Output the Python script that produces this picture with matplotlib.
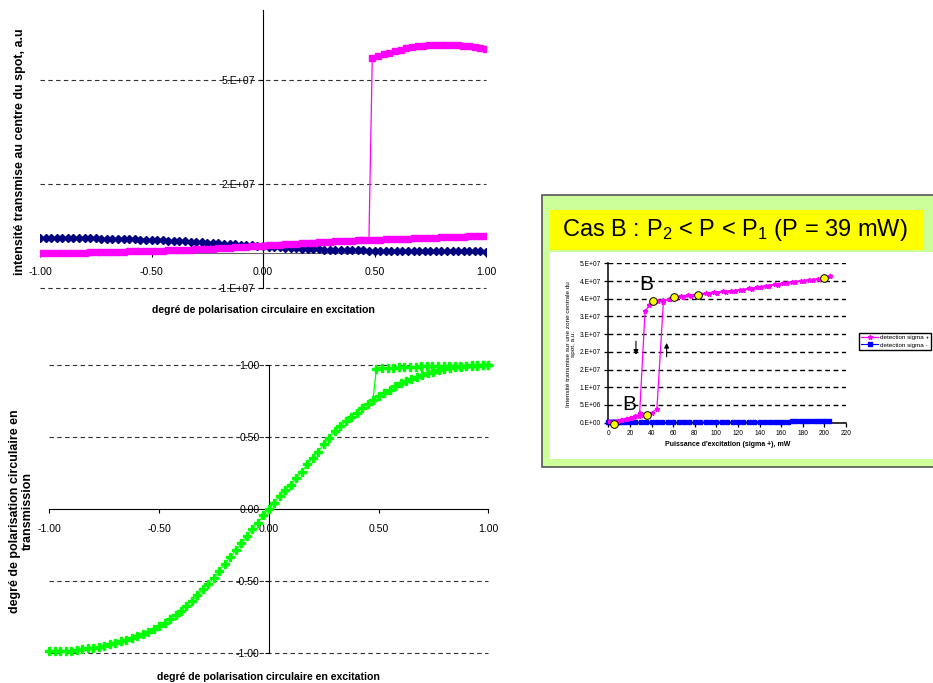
import numpy as np
import matplotlib
matplotlib.use("Agg")
import matplotlib.pyplot as plt
from matplotlib import font_manager
from matplotlib.patches import Rectangle

# ---------------- data ----------------
# polarisation sweep (degree of circular polarisation in excitation)
pol_x = np.linspace(-1.0, 1.0, 81)
pol_x_hi = np.linspace(0.49, 1.0, 21)
jump_idx = 59  # last point of the low branch before the switch (x = 0.475)

# top chart, transmitted intensity, units of 1e6 a.u.
navy_int = [4.50, 4.49, 4.47, 4.46, 4.44, 4.42, 4.40, 4.37, 4.34, 4.31,
            4.27, 4.23, 4.19, 4.15, 4.11, 4.06, 4.02, 3.97, 3.92, 3.87,
            3.82, 3.76, 3.70, 3.63, 3.57, 3.50, 3.42, 3.34, 3.26, 3.17,
            3.08, 2.99, 2.89, 2.79, 2.69, 2.58, 2.47, 2.36, 2.25, 2.13,
            2.02, 1.91, 1.80, 1.70, 1.60, 1.50, 1.41, 1.33, 1.25, 1.18,
            1.12, 1.06, 1.01, 0.97, 0.93, 0.89, 0.86, 0.83, 0.80, 0.78,
            0.76, 0.74, 0.72, 0.70, 0.68, 0.67, 0.65, 0.64, 0.62, 0.61,
            0.60, 0.59, 0.58, 0.57, 0.56, 0.55, 0.54, 0.53, 0.52, 0.51,
            0.50]
pink_int_low = [0.00, 0.02, 0.04, 0.07, 0.09, 0.12, 0.15, 0.18, 0.21, 0.25,
                0.29, 0.33, 0.37, 0.41, 0.45, 0.50, 0.54, 0.58, 0.62, 0.65,
                0.68, 0.72, 0.76, 0.81, 0.86, 0.92, 0.98, 1.04, 1.11, 1.18,
                1.26, 1.34, 1.43, 1.52, 1.61, 1.71, 1.81, 1.91, 2.01, 2.11,
                2.21, 2.31, 2.41, 2.51, 2.61, 2.71, 2.80, 2.89, 2.98, 3.07,
                3.15, 3.23, 3.31, 3.39, 3.46, 3.53, 3.60, 3.67, 3.74, 3.80,
                3.86, 3.92, 3.98, 4.04, 4.10, 4.16, 4.22, 4.28, 4.34, 4.40,
                4.46, 4.52, 4.57, 4.63, 4.68, 4.73, 4.78, 4.83, 4.88, 4.93,
                4.98]
pink_int_high = [56.2, 56.8, 57.3, 57.7, 58.2, 58.6, 59.0, 59.3, 59.5, 59.7,
                 59.8, 59.9, 60.0, 60.0, 59.9, 59.8, 59.6, 59.5, 59.4, 59.2,
                 58.9]
top_yticks = [-1e7, 2e7, 5e7]
top_ylabels = ["-1.E+07", "2.E+07", "5.E+07"]
pol_ticks = [-1.0, -0.5, 0.0, 0.5, 1.0]
pol_labels = ["-1.00", "-0.50", "0.00", "0.50", "1.00"]

# bottom chart, degree of circular polarisation in transmission
green_pol = [-0.99, -0.99, -0.99, -0.99, -0.985, -0.98, -0.975, -0.97, -0.965, -0.96,
             -0.95, -0.94, -0.93, -0.92, -0.91, -0.90, -0.885, -0.87, -0.855, -0.835,
             -0.815, -0.79, -0.765, -0.74, -0.71, -0.675, -0.64, -0.60, -0.56, -0.52,
             -0.48, -0.43, -0.38, -0.335, -0.285, -0.24, -0.19, -0.14, -0.095, -0.045,
             0.00, 0.045, 0.09, 0.13, 0.17, 0.215, 0.26, 0.31, 0.355, 0.40,
             0.45, 0.495, 0.54, 0.575, 0.61, 0.64, 0.67, 0.70, 0.73, 0.76,
             0.785, 0.81, 0.83, 0.855, 0.875, 0.89, 0.905, 0.92, 0.935, 0.945,
             0.955, 0.965, 0.972, 0.98, 0.985, 0.99, 0.995, 0.997, 0.998, 1.00,
             1.00]
green_pol_high = [0.975, 0.978, 0.98, 0.983, 0.985, 0.987, 0.989, 0.99, 0.992, 0.993,
                  0.994, 0.995, 0.996, 0.997, 0.997, 0.998, 0.998, 0.999, 0.999, 1.0,
                  1.0]
bot_yticks = [-1.0, -0.5, 0.0, 0.5, 1.0]
bot_ylabels = ["-1.00", "-0.50", "0.00", "0.50", "1.00"]
bot_grid = [-1.0, -0.5, 0.5, 1.0]

# inset (cas B): power sweep, mW -> intensity in 1e6 a.u.
sweep_up_mw = [0, 4, 8, 12, 16, 20, 24, 28, 32, 36, 40, 45, 51, 56, 61, 67, 74, 82,
               90, 98, 106, 114, 122, 130, 138, 146, 154, 162, 170, 178, 186, 194,
               200, 205]
sweep_up_int = [0.1, 0.25, 0.5, 0.8, 1.1, 1.35, 1.65, 1.95, 2.15, 2.35, 2.7, 4.0,
                34.2, 34.8, 35.5, 35.8, 36.0, 36.3, 36.6, 36.9, 37.1, 37.3, 37.6,
                37.9, 38.3, 38.7, 39.1, 39.5, 39.8, 40.1, 40.4, 40.7, 41.0, 41.4]
sweep_down_mw = [205, 197, 189, 181, 173, 165, 157, 149, 141, 133, 125, 117, 109,
                 101, 93, 85, 77, 69, 63, 57, 51, 46, 42, 38, 34, 29, 25, 21, 17,
                 13, 9, 5, 1]
sweep_down_int = [41.4, 40.7, 40.3, 40.0, 39.7, 39.4, 39.0, 38.6, 38.2, 37.8, 37.5,
                  37.2, 37.0, 36.7, 36.4, 36.1, 35.8, 35.5, 35.2, 34.8, 34.5, 34.3,
                  34.0, 33.2, 31.4, 2.6, 1.8, 1.45, 1.1, 0.8, 0.5, 0.3, 0.1]
sigma_minus_mw = [0, 1, 2, 3, 4, 5, 6, 8, 10, 12, 15, 20, 25, 30, 35, 40, 45, 50,
                  55, 60, 65, 70, 75, 80, 85, 90, 95, 100, 105, 110, 115, 120, 125,
                  130, 135, 140, 145, 150, 154, 158, 162, 166, 170, 174, 178, 182,
                  186, 190, 194, 198, 201, 204]
sigma_minus_int = [0.1, 0.1, 0.1, 0.15, 0.15, 0.15, 0.15, 0.2, 0.2, 0.2, 0.2, 0.2,
                   0.2, 0.2, 0.2, 0.2, 0.2, 0.2, 0.2, 0.2, 0.2, 0.2, 0.2, 0.2, 0.2,
                   0.2, 0.2, 0.25, 0.25, 0.25, 0.25, 0.25, 0.25, 0.25, 0.25, 0.3,
                   0.3, 0.3, 0.3, 0.3, 0.3, 0.3, 0.35, 0.35, 0.35, 0.35, 0.35, 0.35,
                   0.4, 0.4, 0.4, 0.4]
marked_mw = [5.3, 35.5, 41.7, 60.8, 82.7, 199.7]
marked_int = [-0.3, 2.2, 34.4, 35.6, 36.1, 40.9]
inset_yticks = [0, 5e6, 1e7, 1.5e7, 2e7, 2.5e7, 3e7, 3.5e7, 4e7, 4.5e7]
inset_ylabels = ["0.E+00", "5.E+06", "1.E+07", "2.E+07", "2.E+07", "3.E+07",
                 "3.E+07", "4.E+07", "4.E+07", "5.E+07"]
inset_xticks = [0, 20, 40, 60, 80, 100, 120, 140, 160, 180, 200, 220]

# ---------------- style ----------------
plt.rcParams['font.family'] = ['Liberation Sans', 'DejaVu Sans']
plt.rcParams['mathtext.fontset'] = 'custom'
plt.rcParams['mathtext.rm'] = 'Liberation Sans'
plt.rcParams['mathtext.it'] = 'Liberation Sans'
plt.rcParams['mathtext.default'] = 'regular'

try:
    font_manager.findfont('Liberation Sans Narrow', fallback_to_default=False)
    NARROW, FS = 'Liberation Sans Narrow', 9
except ValueError:
    NARROW, FS = 'Liberation Sans', 7.6

W, H = 933, 683
fig = plt.figure(figsize=(W / 100, H / 100), dpi=100)


def box(x0, y0, x1, y1):
    return [x0 / W, 1 - y1 / H, (x1 - x0) / W, (y1 - y0) / H]


def ptext(x, y, s, **kw):
    return fig.text(x / W, 1 - y / H, s, **kw)


# background panel for the inset picture
axp = fig.add_axes([0, 0, 1, 1], zorder=0)
axp.set_xlim(0, W)
axp.set_ylim(H, 0)
axp.axis('off')
axp.patch.set_visible(False)
axp.add_patch(Rectangle((541.5, 195), 420, 272, fc='#CCFF99', ec='#555555', lw=1.2))
axp.add_patch(Rectangle((550, 209.5), 373.5, 40, fc='#FFFF00', ec='none'))
axp.add_patch(Rectangle((550, 252), 400, 206.5, fc='white', ec='none'))
axp.text(561.5, 230, 'Cas B : P$_2$ < P < P$_1$ (P = 39 mW)', fontsize=17,
         ha='left', va='center')

# ---------------- top chart ----------------
ax1 = fig.add_axes(box(40, 10, 486, 288), zorder=1)
ax1.set_xlim(-1, 1)
ax1.set_ylim(-1e7, 7e7)
for y in top_yticks:
    ax1.axhline(y, color='#333333', lw=0.8, ls=(0, (4, 3)), clip_on=False, zorder=1)
ax1.plot(pol_x, np.array(navy_int) * 1e6, color='#000080', marker='D', ms=4,
         lw=0.8, zorder=3)
ax1.plot(pol_x, np.array(pink_int_low) * 1e6, color='#FF00FF', marker='s', ms=4.5,
         lw=0.8, zorder=4)
ax1.plot(pol_x_hi, np.array(pink_int_high) * 1e6, color='#FF00FF', marker='s',
         ms=4.5, lw=0.8, zorder=4)
ax1.plot([pol_x[jump_idx], pol_x_hi[0]],
         [pink_int_low[jump_idx] * 1e6, pink_int_high[0] * 1e6],
         color='#FF00FF', lw=0.9, zorder=4)
ax1.spines['left'].set_position(('data', 0))
ax1.spines['bottom'].set_position(('data', 0))
ax1.spines['bottom'].set_color('#666666')
ax1.spines[['top', 'right']].set_visible(False)
ax1.set_yticks(top_yticks, top_ylabels, fontfamily=NARROW, fontsize=FS)
ax1.set_xticks(pol_ticks, pol_labels, fontfamily=NARROW, fontsize=FS)
ax1.tick_params(axis='y', length=3, pad=3)
ax1.tick_params(axis='x', length=3, pad=7)
ptext(20, 152, 'intensité transmise au centre du spot, a.u', rotation=90,
      fontsize=9, fontweight='bold', ha='center', va='center')
ptext(263, 310, 'degré de polarisation circulaire en excitation', fontfamily=NARROW,
      fontsize=FS, fontweight='bold', ha='center', va='center')

# ---------------- bottom chart ----------------
ax2 = fig.add_axes(box(49.3, 365.3, 488.3, 652.7), zorder=1)
ax2.set_xlim(-1, 1)
ax2.set_ylim(-1, 1)
for y in bot_grid:
    ax2.axhline(y, color='#333333', lw=0.8, ls=(0, (4, 3)), clip_on=False, zorder=1)
ax2.plot(pol_x, green_pol, color='#00FF00', marker='P', ms=6, lw=0.8,
         clip_on=False, zorder=3)
ax2.plot(pol_x_hi, green_pol_high, color='#00FF00', marker='P', ms=6, lw=0.8,
         clip_on=False, zorder=3)
ax2.plot([pol_x[jump_idx], pol_x_hi[0]], [green_pol[jump_idx], green_pol_high[0]],
         color='#00FF00', lw=0.9, zorder=3)
ax2.spines['left'].set_position(('data', 0))
ax2.spines['bottom'].set_position(('data', 0))
ax2.spines[['top', 'right']].set_visible(False)
ax2.set_yticks(bot_yticks, bot_ylabels, fontfamily=NARROW, fontsize=FS)
ax2.set_xticks(pol_ticks, pol_labels, fontfamily=NARROW, fontsize=FS)
ax2.tick_params(axis='y', length=3, pad=3.5)
ax2.tick_params(axis='x', length=3, pad=8)
ptext(21.5, 511.5, 'degré de polarisation circulaire en\ntransmission', rotation=90,
      fontsize=9, fontweight='bold', ha='center', va='center', linespacing=1.0,
      multialignment='center')
ptext(268, 676.5, 'degré de polarisation circulaire en excitation', fontfamily=NARROW,
      fontsize=FS, fontweight='bold', ha='center', va='center')

# ---------------- inset chart (cas B) ----------------
ax3 = fig.add_axes(box(608.3, 263.3, 846, 422.7), zorder=2)
ax3.set_facecolor('none')
ax3.set_xlim(0, 220)
ax3.set_ylim(0, 4.5e7)
ax3.set_yticks(inset_yticks, inset_ylabels, fontsize=4.8)
ax3.set_xticks(inset_xticks, [str(v) for v in inset_xticks], fontsize=4.8)
ax3.grid(axis='y', color='black', lw=1.0, ls=(0, (3.5, 2.5)))
ax3.set_axisbelow(True)
ax3.spines[['top', 'right']].set_visible(False)
ax3.spines[['left', 'bottom']].set_linewidth(1.1)
ax3.tick_params(length=3, width=0.9, pad=2.5)
l_minus, = ax3.plot(sigma_minus_mw, np.array(sigma_minus_int) * 1e6, color='#0000FF',
                    marker='s', ms=2.2, lw=0.8, clip_on=False, zorder=3)
l_plus, = ax3.plot(sweep_up_mw, np.array(sweep_up_int) * 1e6, color='#FF00FF',
                   marker='*', ms=3.5, lw=0.9, zorder=4)
ax3.plot(sweep_down_mw, np.array(sweep_down_int) * 1e6, color='#FF00FF',
         marker='*', ms=3.5, lw=0.9, zorder=4)
ax3.plot(marked_mw, np.array(marked_int) * 1e6, ls='none', marker='o', ms=5.5,
         mfc='#FFFF00', mec='black', mew=0.7, clip_on=False, zorder=5)
ax3.text(35.5, 38.9e6, 'B', fontsize=15, ha='center', va='center')
ax3.text(19.5, 5.2e6, 'B', fontsize=15, ha='center', va='center')
arrow = dict(arrowstyle='-|>', color='black', lw=0.8, mutation_scale=7)
ax3.annotate('', xy=(25.6, 18.4e6), xytext=(25.6, 23.8e6), arrowprops=arrow)
ax3.annotate('', xy=(54, 23.3e6), xytext=(54, 17.8e6), arrowprops=arrow)
ax3.legend([l_plus, l_minus], ['detection sigma +', 'detection sigma -'],
           loc='upper left', bbox_to_anchor=(859.3 / W, 1 - 332.7 / H),
           bbox_transform=fig.transFigure, fontsize=4.5, frameon=True,
           fancybox=False, edgecolor='black', framealpha=1, borderpad=0.35,
           handlelength=2.6, handletextpad=0.3, labelspacing=0.3,
           borderaxespad=0)
ptext(728, 445, "Puissance d'excitation (sigma +), mW", fontsize=5,
      fontweight='bold', ha='center', va='center')
ptext(571, 344, 'Intensité transmise sur une zone centrale du\nspot, a.u.',
      rotation=90, fontsize=4.6, ha='center', va='center', linespacing=1.1,
      multialignment='center')

fig.savefig('out.png', dpi=100)
